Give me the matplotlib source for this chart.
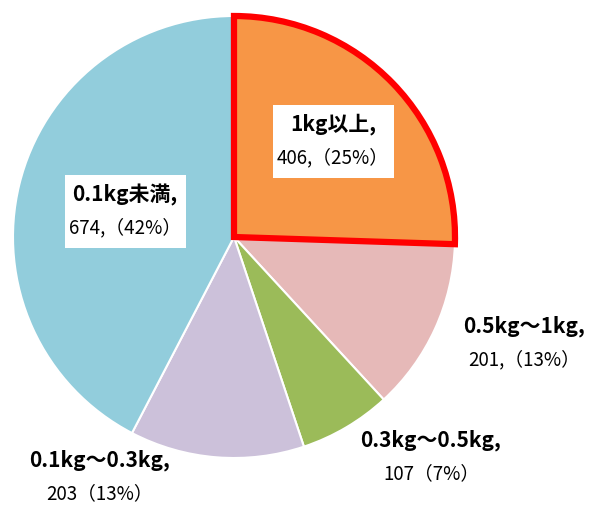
import matplotlib.pyplot as plt
from matplotlib.patches import Rectangle

plt.rcParams['font.family'] = ['Noto Sans CJK JP', 'DejaVu Sans']

# data, clockwise from 12 o'clock
categories = ['1kg以上', '0.5kg～1kg', '0.3kg～0.5kg', '0.1kg～0.3kg', '0.1kg未満']
counts = [406, 201, 107, 203, 674]
shares = [25, 13, 7, 13, 42]
colors = ['#F79646', '#E6B9B8', '#9BBB59', '#CCC1DA', '#92CDDC']

W, H = 592, 505
fig = plt.figure(figsize=(W / 100, H / 100), dpi=100)
ax = fig.add_axes([0, 0, 1, 1])
ax.set_xlim(0, W)
ax.set_ylim(0, H)
ax.set_aspect('equal')
ax.axis('off')

wedges, _ = ax.pie(counts, colors=colors, startangle=90, counterclock=False,
                   center=(234, H - 237), radius=221,
                   wedgeprops=dict(edgecolor='white', linewidth=1.5))
ax.set_xlim(0, W)
ax.set_ylim(0, H)

# highlight the first slice
wedges[0].set_edgecolor('#FF0000')
wedges[0].set_linewidth(4.5)
wedges[0].set_zorder(5)

# label layout (pixel positions), second line formats
label_pos = [(333, 141), (524, 343), (431, 457), (100, 477), (125, 211)]
second = ['{},（{}%）', '{},（{}%）', '{}（{}%）', '{}（{}%）', '{},（{}%）']
boxed = [True, False, False, False, True]
box_size = (121, 73)
gap = 16.5

for i, name in enumerate(categories):
    x, y = label_pos[i]
    y = H - y
    if boxed[i]:
        ax.add_patch(Rectangle((x - box_size[0] / 2, y - box_size[1] / 2),
                               box_size[0], box_size[1], facecolor='white',
                               edgecolor='none', zorder=6))
    ax.text(x, y + gap, name + ',', ha='center', va='center', fontsize=15,
            fontweight='bold', zorder=7)
    ax.text(x, y - gap, second[i].format(counts[i], shares[i]), ha='center',
            va='center', fontsize=13.5, zorder=7)

fig.savefig('out.png', dpi=100)
